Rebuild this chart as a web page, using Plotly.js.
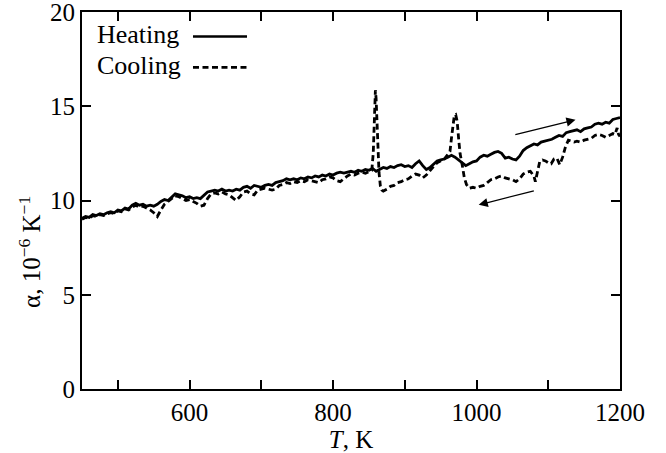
<!DOCTYPE html>
<html>
<head>
<meta charset="utf-8">
<script src="https://cdn.plot.ly/plotly-3.0.1.min.js"></script>
<style>
html,body{margin:0;padding:0;background:#fff;}
#chart{width:666px;height:453px;}
#chart text{font-family:'Liberation Serif','Times New Roman',serif !important;}
</style>
</head>
<body>
<div id="chart"></div>
<script>
// Heating curve: temperature (K) and alpha (10^-6 K^-1)
const heatT = [450,455,460,465,470,475,480,485,490,495,500,505,510,515,520,525,530,535,540,545,550,555,560,565,570,575,580,585,590,595,600,605,610,615,620,625,630,635,640,645,650,655,660,665,670,675,680,685,690,695,700,705,710,715,720,725,730,735,740,745,750,755,760,765,770,775,780,785,790,795,800,805,810,815,820,825,830,835,840,845,850,855,860,865,870,875,880,885,890,895,900,905,910,915,920,925,930,935,940,945,950,955,960,965,970,975,980,985,990,995,1000,1005,1010,1015,1020,1025,1030,1035,1040,1045,1050,1055,1060,1065,1070,1075,1080,1085,1090,1095,1100,1105,1110,1115,1120,1125,1130,1135,1140,1145,1150,1155,1160,1165,1170,1175,1180,1185,1190,1195,1200];
const heatA = [9.05,9.15,9.1,9.25,9.2,9.3,9.25,9.35,9.4,9.35,9.5,9.45,9.6,9.55,9.75,9.85,9.75,9.8,9.7,9.75,9.7,9.8,9.95,10.05,10.0,10.2,10.35,10.3,10.25,10.15,10.2,10.1,10.15,10.1,10.3,10.45,10.5,10.55,10.5,10.6,10.5,10.55,10.5,10.6,10.55,10.7,10.75,10.65,10.8,10.75,10.7,10.8,10.85,10.8,10.95,11.0,11.05,11.15,11.1,11.15,11.1,11.2,11.15,11.25,11.2,11.3,11.25,11.35,11.3,11.4,11.35,11.45,11.5,11.45,11.5,11.55,11.5,11.6,11.55,11.65,11.6,11.7,11.55,11.65,11.75,11.7,11.8,11.75,11.85,11.9,11.8,11.85,11.75,11.95,12.1,11.85,11.65,11.75,11.95,12.1,12.15,12.2,12.3,12.4,12.3,12.15,11.95,11.85,11.95,12.05,12.1,12.3,12.4,12.35,12.45,12.55,12.6,12.5,12.25,12.3,12.2,12.15,12.35,12.65,12.8,12.9,13.0,12.95,13.1,13.15,13.2,13.25,13.35,13.45,13.4,13.6,13.65,13.7,13.75,13.65,13.8,13.85,13.9,14.05,14.1,14.05,14.15,14.1,14.3,14.35,14.4];

// Cooling curve
const coolT = [450,455,460,465,470,475,480,485,490,495,500,505,510,515,520,525,530,535,540,545,550,555,560,565,570,575,580,585,590,595,600,605,610,615,620,625,630,635,640,645,650,655,660,665,670,675,680,685,690,695,700,705,710,715,720,725,730,735,740,745,750,755,760,765,770,775,780,785,790,795,800,805,810,815,820,825,830,835,840,845,850,854,856,857,858,859,860,861,862,864,866,868,870,875,880,885,890,895,900,905,910,915,920,925,930,935,940,945,950,955,960,963,965,967,969,971,973,975,977,980,983,986,990,995,1000,1005,1010,1015,1020,1025,1030,1035,1040,1045,1050,1055,1060,1065,1070,1075,1080,1082,1085,1088,1092,1096,1100,1104,1108,1112,1116,1120,1124,1128,1132,1136,1140,1145,1150,1155,1160,1165,1170,1175,1180,1185,1190,1193,1196,1198,1200];
const coolA = [9.0,9.1,9.05,9.2,9.15,9.25,9.2,9.3,9.35,9.3,9.45,9.4,9.55,9.5,9.65,9.75,9.65,9.7,9.6,9.5,9.35,9.15,9.5,9.8,9.95,10.1,10.25,10.2,10.1,10.0,10.05,9.95,9.85,9.7,9.75,10.1,10.35,10.4,10.35,10.45,10.35,10.3,10.15,10.0,10.2,10.45,10.5,10.35,10.3,10.55,10.6,10.65,10.6,10.55,10.6,10.8,10.85,10.95,10.9,11.0,10.95,11.05,11.0,11.1,11.05,11.0,10.95,11.1,11.15,11.25,11.2,11.05,11.0,11.15,11.3,11.4,11.35,11.45,11.5,11.45,11.55,11.6,12.5,14.0,15.3,15.85,15.4,14.2,12.8,11.5,10.75,10.55,10.5,10.6,10.75,10.8,10.95,11.0,11.1,11.15,11.3,11.4,11.35,11.2,11.35,11.6,11.8,12.0,12.1,12.2,12.45,12.6,13.3,14.1,14.5,14.55,14.2,13.3,12.5,11.9,11.2,10.85,10.65,10.7,10.65,10.75,10.8,10.95,11.1,11.15,11.25,11.3,11.2,11.15,11.1,11.0,11.15,11.4,11.5,11.55,11.3,11.0,11.6,12.05,12.15,12.1,12.0,11.95,12.2,12.25,11.9,12.3,12.85,13.2,13.15,13.1,13.15,13.1,13.2,13.25,13.3,13.45,13.5,13.45,13.35,13.45,13.55,13.5,13.85,13.5,13.4];

// Axis ticks
const xTickVals = [500,600,700,800,900,1000,1100,1200];
const xTickText = ['','600','','800','','1000','','1200'];
const yTickVals = [0,5,10,15,20];
const yTickText = ['0','5','10','15','20'];

// Direction arrows (data coords): [tailT, tailA, headT, headA]
const arrowUp = [1052,13.48,1138,14.28];
const arrowDown = [1082,10.53,1003,9.77];

const FONT = 'Liberation Serif';
const DASH = '6px,3.5px';

const traces = [
  {x: heatT, y: heatA, type: 'scatter', mode: 'lines', name: 'Heating',
   line: {color: '#000', width: 2.8}, showlegend: false},
  {x: coolT, y: coolA, type: 'scatter', mode: 'lines', name: 'Cooling',
   line: {color: '#000', width: 2.8, dash: DASH}, showlegend: false}
];

const axisCommon = {
  showline: true, linecolor: '#000', linewidth: 2, mirror: 'ticks',
  ticks: 'inside', ticklen: 9, tickwidth: 2, tickcolor: '#000',
  showgrid: false, zeroline: false, ticklabeloverflow: 'allow',
  tickfont: {family: FONT, size: 25, color: '#000'}
};

const layout = {
  width: 666, height: 453,
  margin: {l: 82, r: 46, t: 12, b: 64},
  paper_bgcolor: '#fff', plot_bgcolor: '#fff',
  font: {family: FONT, color: '#000'},
  xaxis: Object.assign({}, axisCommon, {
    range: [450, 1200], tickmode: 'array', tickvals: xTickVals, ticktext: xTickText,
    title: {text: '<i>T</i>, K', font: {family: FONT, size: 25, color: '#000'}, standoff: 2}
  }),
  yaxis: Object.assign({}, axisCommon, {
    range: [0, 20], tickmode: 'array', tickvals: yTickVals, ticktext: yTickText
  }),
  annotations: [
    {xref: 'paper', yref: 'paper', x: -0.097, y: 0.363, text: 'α, 10<sup>−6</sup> K<sup>−1</sup>',
     textangle: -90, showarrow: false, xanchor: 'center', yanchor: 'middle',
     font: {family: FONT, size: 25, color: '#000'}},
    {xref: 'paper', yref: 'paper', x: 0.024, y: 0.939, text: 'Heating', showarrow: false,
     xanchor: 'left', yanchor: 'middle', font: {family: FONT, size: 26, color: '#000'}},
    {xref: 'paper', yref: 'paper', x: 0.024, y: 0.857, text: 'Cooling', showarrow: false,
     xanchor: 'left', yanchor: 'middle', font: {family: FONT, size: 26, color: '#000'}},
    {xref: 'x', yref: 'y', axref: 'x', ayref: 'y',
     x: arrowUp[2], y: arrowUp[3], ax: arrowUp[0], ay: arrowUp[1], text: '',
     showarrow: true, arrowhead: 2, arrowsize: 1.4, arrowwidth: 1.3, arrowcolor: '#000'},
    {xref: 'x', yref: 'y', axref: 'x', ayref: 'y',
     x: arrowDown[2], y: arrowDown[3], ax: arrowDown[0], ay: arrowDown[1], text: '',
     showarrow: true, arrowhead: 2, arrowsize: 1.4, arrowwidth: 1.3, arrowcolor: '#000'}
  ],
  shapes: [
    {type: 'line', xref: 'paper', yref: 'paper', x0: 0.2063, x1: 0.3067, y0: 0.935, y1: 0.935,
     line: {color: '#000', width: 2.6}},
    {type: 'line', xref: 'paper', yref: 'paper', x0: 0.2063, x1: 0.3067, y0: 0.853, y1: 0.853,
     line: {color: '#000', width: 2.6, dash: DASH}}
  ]
};

Plotly.newPlot('chart', traces, layout, {displayModeBar: false, staticPlot: true});
</script>
</body>
</html>
